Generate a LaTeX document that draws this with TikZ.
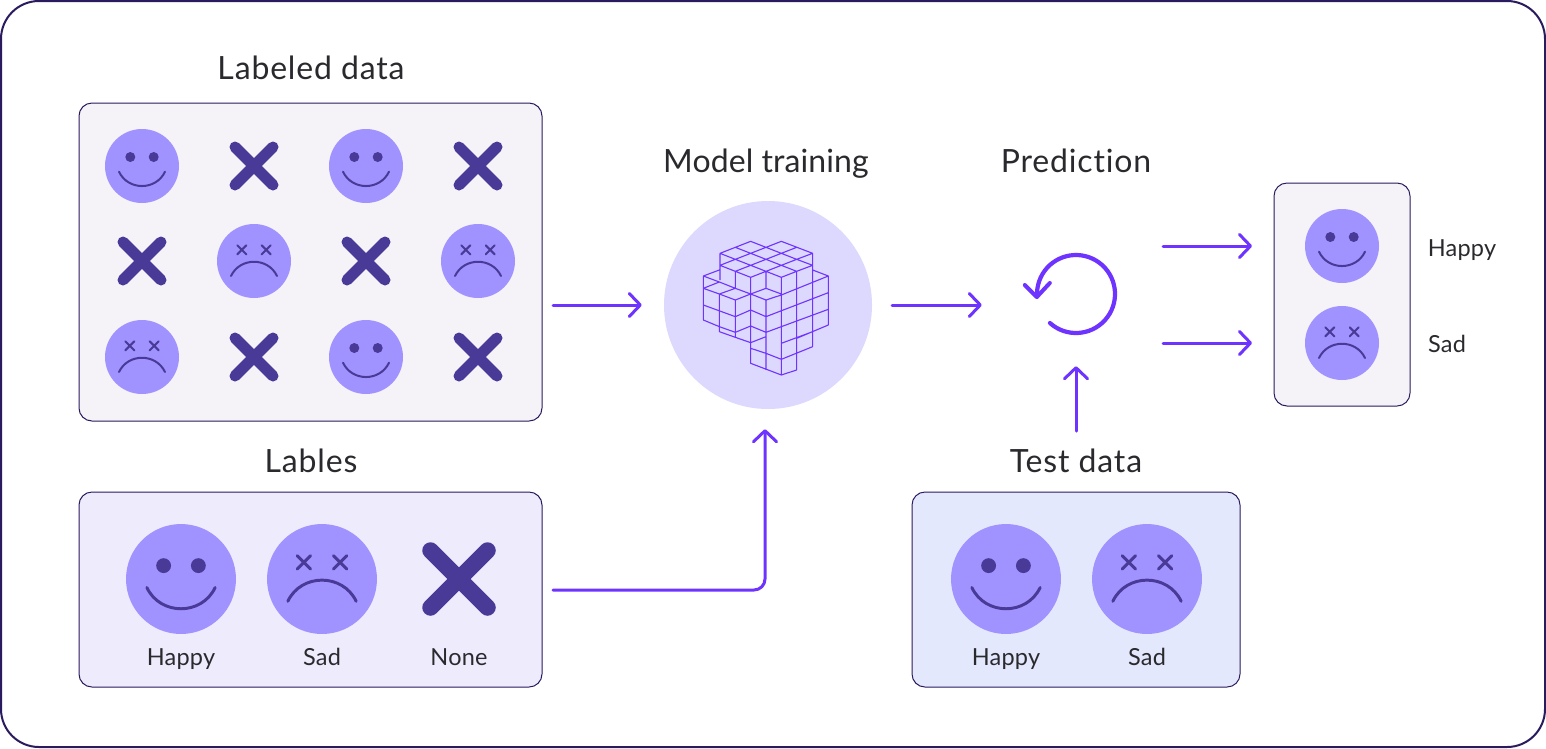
\documentclass[tikz,border=0pt]{standalone}
\usepackage{fontspec}
\setmainfont[Ligatures=NoCommon]{Lato}
\usetikzlibrary{arrows.meta}
\definecolor{ink}{HTML}{2A2A2E}
\definecolor{frame}{HTML}{2A1A5E}
\definecolor{vio}{HTML}{6E33FF}
\definecolor{face}{HTML}{A093FF}
\definecolor{deep}{HTML}{483A96}
\definecolor{disc}{HTML}{DCD8FE}
\definecolor{greybox}{HTML}{F5F3F7}
\definecolor{lilacbox}{HTML}{EEEBFD}
\definecolor{bluebox}{HTML}{E4E8FC}
\tikzset{
  x=1pt,y=-1pt,
  panel/.style={draw=frame,line width=1pt,rounded corners=13pt,outer sep=0pt},
  title/.style={text=ink,font=\fontsize{32}{38}\selectfont\addfontfeature{LetterSpace=2.6},inner sep=0pt,anchor=base},
  tighttitle/.style={title,font=\fontsize{32}{38}\selectfont\addfontfeature{LetterSpace=0.3}},
  small/.style={text=ink,font=\fontsize{23.5}{28}\selectfont\addfontfeature{LetterSpace=1},inner sep=0pt,anchor=base},
  disk/.style={circle,fill=face,inner sep=0pt},
  xspot/.style={draw=none,inner sep=0pt,minimum size=0pt},
  conn/.style={draw=vio,line width=3pt,line cap=round,line join=round,-{Straight Barb[length=11pt,width=23pt,round]}},
  wire/.style={draw=vio,line width=1.1pt,line join=round},
}
\newcommand\smileface[4]{%
  \node[disk,minimum size={#4*74pt}] (#1) at (#2,#3) {};
  \begin{scope}[shift={(#1.center)},x=#4pt,y=-#4pt]
    \fill[deep] (-11.7,-9) circle[radius=5] (11.7,-9) circle[radius=5];
    \draw[deep,line width=#4*2pt,line cap=round] (-23,5.7) .. controls (-14,24.8) and (14,24.8) .. (23,5.7);
  \end{scope}}
\newcommand\sadface[4]{%
  \node[disk,minimum size={#4*74pt}] (#1) at (#2,#3) {};
  \begin{scope}[shift={(#1.center)},x=#4pt,y=-#4pt]
    \draw[deep,line width=#4*2pt,line cap=round]
      (-16.7,-15.7) -- (-7.7,-6.7) (-16.7,-6.7) -- (-7.7,-15.7)
      (7.7,-15.7) -- (16.7,-6.7) (7.7,-6.7) -- (16.7,-15.7)
      (-23,15) .. controls (-14,-4) and (14,-4) .. (23,15);
  \end{scope}}
\newcommand\crossmark[4]{%
  \node[xspot] (#1) at (#2,#3) {};
  \begin{scope}[shift={(#1.center)},x=#4pt,y=-#4pt]
    \draw[deep,line width=#4*11pt,line cap=round] (-19,-19) -- (19,19) (-19,19) -- (19,-19);
  \end{scope}}
\begin{document}
\begin{tikzpicture}
\useasboundingbox (0,0) rectangle (1546,748);
\fill[white] (0,0) rectangle (1546,748);
\draw[frame,line width=2pt,rounded corners=38pt,fill=white] (1,1) rectangle (1545,747);

% panels
\node[panel,fill=greybox,minimum width=463pt,minimum height=318pt,anchor=north west] (labeled) at (79,103) {};
\node[panel,fill=lilacbox,minimum width=463pt,minimum height=195pt,anchor=north west] (labels) at (79,492) {};
\node[panel,fill=bluebox,minimum width=328pt,minimum height=195pt,anchor=north west] (test) at (912,492) {};
\node[panel,fill=greybox,minimum width=136pt,minimum height=223pt,anchor=north west] (out) at (1274,183) {};

% titles
\node[title] (t1) at (311,79) {Labeled data};
\node[title] (t2) at (311,472) {Lables};
\node[tighttitle] (t3) at (766,172) {Model training};
\node[title] (t4) at (1076,172) {Prediction};
\node[title] (t5) at (1076,472) {Test data};

% labeled data grid
\smileface{a1}{142}{166}{1}
\crossmark{a2}{254}{166}{1}
\smileface{a3}{366}{166}{1}
\crossmark{a4}{478}{166}{1}
\crossmark{b1}{142}{261}{1}
\sadface{b2}{254}{261}{1}
\crossmark{b3}{366}{261}{1}
\sadface{b4}{478}{261}{1}
\sadface{c1}{142}{357}{1}
\crossmark{c2}{254}{357}{1}
\smileface{c3}{366}{357}{1}
\crossmark{c4}{478}{357}{1}

% labels panel
\smileface{l1}{181}{579}{1.486}
\sadface{l2}{322}{579}{1.486}
\crossmark{l3}{459}{579}{1.5}
\node[small] (lt1) at (181,665) {Happy};
\node[small] (lt2) at (322,665) {Sad};
\node[small] (lt3) at (459,665) {None};

% test panel
\smileface{e1}{1006}{579}{1.486}
\sadface{e2}{1147}{579}{1.486}
\node[small] (et1) at (1006,665) {Happy};
\node[small] (et2) at (1147,665) {Sad};

% output panel
\smileface{o1}{1342}{246}{1}
\sadface{o2}{1342}{343}{1}
\node[small] (ot1) at (1462,256) {Happy};
\node[small] (ot2) at (1447,352) {Sad};

% model
\node[circle,fill=disc,minimum size=208pt,inner sep=0pt] (train) at (768,305) {};
\begin{scope}[shift={(660,200)},x=.3333pt,y=-.3333pt]
\draw[wire]
 (180,160)--(272,124)--(318,142)--(364,124)--(458,160)
 (226,142)--(272,160)--(318,178)--(364,196)--(410,214)
 (180,160)--(226,178)--(272,196)--(318,214)--(364,232)
 (318,142)--(364,160)--(410,178)--(458,196)
 (364,124)--(458,160)--(410,178)--(364,196)--(318,214)--(272,232)--(226,214)--(180,196)
 (410,142)--(364,160)--(318,178)--(272,196)--(226,214)
 (364,124)--(318,142)--(272,160)--(226,178)--(180,196)
 (458,196)--(410,214)--(364,232)
 (180,160)--(180,240)
 (226,214)--(226,265)
 (272,232)--(272,282)
 (318,214)--(318,265)
 (364,232)--(364,525)
 (410,214)--(410,510)
 (458,160)--(458,440)
 (458,210)--(505,228)--(505,375)--(410,415)
 (505,228)--(364,285)--(318,300)
 (505,278)--(318,350)
 (505,328)--(364,380)
 (458,395)--(364,430)
 (458,440)--(364,478)--(318,460)--(272,445)
 (130,228)--(178,210)
 (130,228)--(178,246)--(226,265)--(272,282)
 (130,228)--(130,360)
 (130,265)--(178,246)
 (130,265)--(178,282)--(226,300)--(272,282)--(318,300)
 (226,265)--(178,282)
 (272,282)--(318,265)--(364,282)
 (130,315)--(226,350)--(272,330)--(318,350)
 (130,360)--(178,380)--(226,397)--(272,378)--(318,397)--(364,380)
 (178,282)--(178,395)--(226,412)--(272,428)--(318,410)
 (226,300)--(226,412)
 (272,282)--(272,490)--(364,525)--(410,510)
 (318,300)--(318,510);
\end{scope}

% prediction loop
\node[circle,minimum size=78pt,inner sep=0pt] (loop) at (1076,294) {};
\draw[vio,line width=4.2pt,line cap=round,line join=round]
  (loop.center) ++(132:39) arc[start angle=132,end angle=-184,radius=39];
\draw[vio,line width=4pt,line cap=round,line join=round]
  ([xshift=-12pt,yshift=9pt]loop.west) -- ([xshift=0pt,yshift=-3pt]loop.west) -- ([xshift=13pt,yshift=11pt]loop.west);

% connectors
\coordinate (elbow) at (765,590);
\draw[conn,shorten <=11pt,shorten >=22pt] (labeled.east |- train.west) -- (train.west);
\draw[conn,shorten <=20pt,shorten >=55pt] (train.east) -- (train.east -| loop.west);
\draw[conn,rounded corners=11pt,shorten <=11pt,shorten >=20pt] (labels.east |- elbow) -- (elbow) -- (elbow |- train.south);
\draw[conn,shorten <=61pt,shorten >=33pt] (test.north -| loop.south) -- (loop.south);
\draw[conn,shorten <=48pt,shorten >=22pt] (loop.east |- o1) -- (out.west |- o1);
\draw[conn,shorten <=48pt,shorten >=22pt] (loop.east |- o2) -- (out.west |- o2);
\end{tikzpicture}
\end{document}
